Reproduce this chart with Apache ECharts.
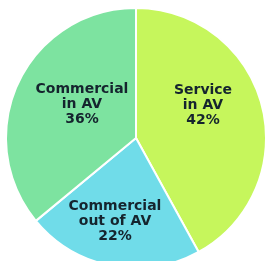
<!DOCTYPE html>
<html>
<head>
<meta charset="utf-8">
<script src="https://cdn.jsdelivr.net/npm/echarts@6/dist/echarts.min.js"></script>
<style>
html,body{margin:0;padding:0;background:#fff;}
#c{width:268px;height:261px;}
</style>
</head>
<body>
<div id="c"></div>
<script>
const categories = ["Service\nin AV", "Commercial\nout of AV", "Commercial\nin AV"];
const shares = [42, 22, 36];
const colors = ["#c6f65c", "#70dce9", "#7de3a0"];
const labelCenters = [[203, 105], [115, 221], [82, 104]];

const chart = echarts.init(document.getElementById('c'), null, {renderer: 'canvas'});
chart.setOption({
  animation: false,
  backgroundColor: '#ffffff',
  series: [{
    type: 'pie',
    center: [136, 138],
    radius: [0, 130],
    startAngle: 90,
    clockwise: true,
    avoidLabelOverlap: false,
    itemStyle: {borderColor: '#ffffff', borderWidth: 2},
    label: {
      show: true,
      position: 'inside',
      formatter: p => p.name + '\n' + p.value + '%',
      fontFamily: 'DejaVu Sans',
      fontWeight: 'bold',
      fontSize: 14,
      lineHeight: 15,
      color: '#15242e',
      align: 'center',
      verticalAlign: 'middle'
    },
    labelLine: {show: false},
    labelLayout: p => ({x: labelCenters[p.dataIndex][0], y: labelCenters[p.dataIndex][1]}),
    data: categories.map((c, i) => ({name: c, value: shares[i], itemStyle: {color: colors[i]}}))
  }]
});
</script>
</body>
</html>
